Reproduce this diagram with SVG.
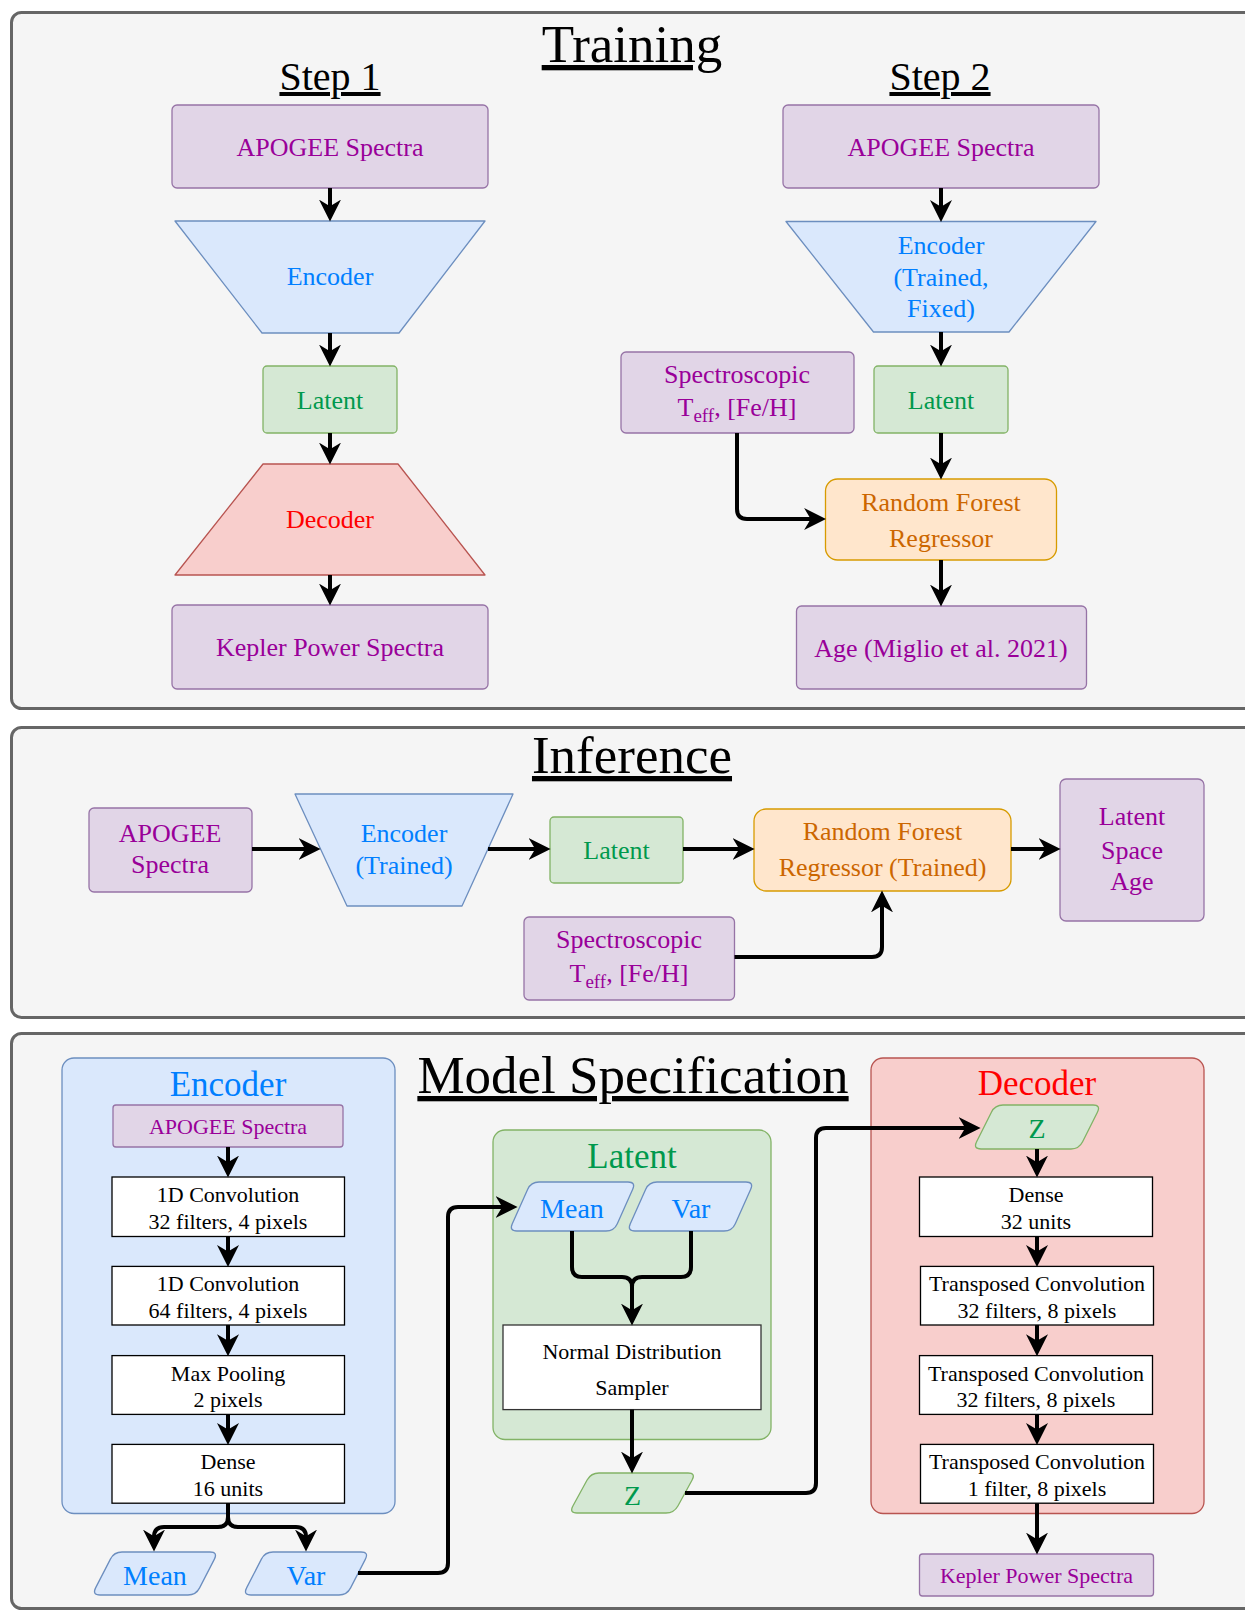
<svg xmlns="http://www.w3.org/2000/svg" width="1245" height="1610" viewBox="0 0 1245 1610">
<style>
text{font-family:"Liberation Serif","Times New Roman",serif;text-anchor:middle}
.panel{fill:#f5f5f5;stroke:#666666;stroke-width:3}
.pur{fill:#e1d5e7;stroke:#9673a6;stroke-width:1.3}
.blu{fill:#dae8fc;stroke:#6c8ebf;stroke-width:1.3;stroke-linejoin:round}
.grn{fill:#d5e8d4;stroke:#82b366;stroke-width:1.3;stroke-linejoin:round}
.org{fill:#ffe6cc;stroke:#d79b00;stroke-width:1.3}
.red{fill:#f8cecc;stroke:#b85450;stroke-width:1.3;stroke-linejoin:round}
.wht{fill:#ffffff;stroke:#000000;stroke-width:1.3}
.title{font-size:53px;fill:#000;text-decoration:underline}
.step{font-size:40px;fill:#000;text-decoration:underline}
.t26{font-size:26px}
.t22{font-size:22px}
.t28{font-size:28px}
.t35{font-size:35px}
.cp{fill:#990099}
.cb{fill:#007fff}
.cg{fill:#00994d}
.co{fill:#cc6600}
.cr{fill:#ff0000}
.ck{fill:#000000}
.edge{fill:none;stroke:#000;stroke-width:4;stroke-linejoin:round;marker-end:url(#arr)}
.line{fill:none;stroke:#000;stroke-width:4;stroke-linejoin:round}
</style>
<defs>
<marker id="arr" markerUnits="userSpaceOnUse" markerWidth="22" markerHeight="22" viewBox="0 0 20 20" refX="14" refY="10" orient="auto">
<path d="M0,0 L20,10 L0,20 L6,10 Z" fill="#000"/>
</marker>
</defs>

<!-- Panels -->
<g id="panel-training">
<rect class="panel" x="11.5" y="12.5" width="1260" height="696" rx="10"/>
<text class="title" x="632" y="62">Training</text>
<text class="step" x="330" y="90">Step 1</text>
<text class="step" x="940" y="90">Step 2</text>
</g>
<g id="panel-inference">
<rect class="panel" x="11.5" y="727.5" width="1260" height="290" rx="10"/>
<text class="title" x="632" y="773">Inference</text>
</g>
<g id="panel-model">
<rect class="panel" x="11.5" y="1033.5" width="1260" height="575" rx="10"/>
<text class="title" x="633" y="1093">Model Specification</text>
</g>

<!-- Training Step 1 -->
<g id="s1-apogee">
<rect class="pur" x="172" y="105" width="316" height="83" rx="5"/>
<text class="t26 cp" x="330" y="155.5">APOGEE Spectra</text>
</g>
<g id="s1-encoder">
<path class="blu" d="M175,221 L485,221 L399,333 L262,333 Z"/>
<text class="t26 cb" x="330" y="285">Encoder</text>
</g>
<g id="s1-latent">
<rect class="grn" x="263" y="366" width="134" height="67" rx="4"/>
<text class="t26 cg" x="330" y="408.5">Latent</text>
</g>
<g id="s1-decoder">
<path class="red" d="M263,464 L398,464 L485,575 L175,575 Z"/>
<text class="t26 cr" x="330" y="528">Decoder</text>
</g>
<g id="s1-kepler">
<rect class="pur" x="172" y="605" width="316" height="84" rx="5"/>
<text class="t26 cp" x="330" y="656">Kepler Power Spectra</text>
</g>

<!-- Training Step 2 -->
<g id="s2-apogee">
<rect class="pur" x="783" y="105" width="316" height="83" rx="5"/>
<text class="t26 cp" x="941" y="155.5">APOGEE Spectra</text>
</g>
<g id="s2-encoder">
<path class="blu" d="M786,221.5 L1096,221.5 L1009,332 L873.5,332 Z"/>
<text class="t26 cb" x="941" y="254">Encoder</text>
<text class="t26 cb" x="941" y="285.5">(Trained,</text>
<text class="t26 cb" x="941" y="317">Fixed)</text>
</g>
<g id="s2-spec">
<rect class="pur" x="621" y="352" width="233" height="81" rx="5"/>
<text class="t26 cp" x="737" y="382.5">Spectroscopic</text>
<text class="t26 cp" x="737" y="416">T<tspan font-size="19" dy="6">eff</tspan><tspan dy="-6">, [Fe/H]</tspan></text>
</g>
<g id="s2-latent">
<rect class="grn" x="874" y="366" width="134" height="67" rx="4"/>
<text class="t26 cg" x="941" y="408.5">Latent</text>
</g>
<g id="s2-rf">
<rect class="org" x="825.5" y="479" width="231" height="81" rx="12"/>
<text class="t26 co" x="941" y="511">Random Forest</text>
<text class="t26 co" x="941" y="546.5">Regressor</text>
</g>
<g id="s2-age">
<rect class="pur" x="796.5" y="606" width="290" height="83" rx="5"/>
<text class="t26 cp" x="941" y="657">Age (Miglio et al. 2021)</text>
</g>

<!-- Inference -->
<g id="inf-apogee">
<rect class="pur" x="89" y="808" width="163" height="84" rx="5"/>
<text class="t26 cp" x="170" y="842">APOGEE</text>
<text class="t26 cp" x="170" y="873">Spectra</text>
</g>
<g id="inf-encoder">
<path class="blu" d="M295,794 L513,794 L462,906 L347,906 Z"/>
<text class="t26 cb" x="404" y="842">Encoder</text>
<text class="t26 cb" x="404" y="874">(Trained)</text>
</g>
<g id="inf-latent">
<rect class="grn" x="550" y="817" width="133" height="66" rx="4"/>
<text class="t26 cg" x="616.5" y="859">Latent</text>
</g>
<g id="inf-rf">
<rect class="org" x="754" y="809" width="257" height="82" rx="12"/>
<text class="t26 co" x="882.5" y="840">Random Forest</text>
<text class="t26 co" x="882.5" y="876">Regressor (Trained)</text>
</g>
<g id="inf-age">
<rect class="pur" x="1060" y="779" width="144" height="142" rx="6"/>
<text class="t26 cp" x="1132" y="825">Latent</text>
<text class="t26 cp" x="1132" y="859">Space</text>
<text class="t26 cp" x="1132" y="890">Age</text>
</g>
<g id="inf-spec">
<rect class="pur" x="524" y="917" width="210.5" height="83" rx="5"/>
<text class="t26 cp" x="629" y="948">Spectroscopic</text>
<text class="t26 cp" x="629" y="981.5">T<tspan font-size="19" dy="6">eff</tspan><tspan dy="-6">, [Fe/H]</tspan></text>
</g>

<!-- Model spec: Encoder -->
<g id="ms-encoder">
<rect class="blu" x="62" y="1058" width="333" height="455.5" rx="12"/>
<text class="t35 cb" x="228" y="1096">Encoder</text>
</g>
<g id="ms-enc-apogee">
<rect class="pur" x="113" y="1105" width="230" height="42" rx="3"/>
<text class="t22 cp" x="228" y="1134">APOGEE Spectra</text>
</g>
<g id="ms-enc-conv1">
<rect class="wht" x="112" y="1177" width="232.5" height="59.5"/>
<text class="t22 ck" x="228" y="1202">1D Convolution</text>
<text class="t22 ck" x="228" y="1228.7">32 filters, 4 pixels</text>
</g>
<g id="ms-enc-conv2">
<rect class="wht" x="112" y="1266.4" width="232.5" height="58.6"/>
<text class="t22 ck" x="228" y="1291.4">1D Convolution</text>
<text class="t22 ck" x="228" y="1318">64 filters, 4 pixels</text>
</g>
<g id="ms-enc-pool">
<rect class="wht" x="112" y="1355.6" width="232.5" height="58.8"/>
<text class="t22 ck" x="228" y="1380.6">Max Pooling</text>
<text class="t22 ck" x="228" y="1407">2 pixels</text>
</g>
<g id="ms-enc-dense">
<rect class="wht" x="112" y="1444.4" width="232.5" height="58.8"/>
<text class="t22 ck" x="228" y="1469.4">Dense</text>
<text class="t22 ck" x="228" y="1496">16 units</text>
</g>
<g id="ms-enc-mean">
<path class="blu" d="M122,1552 L210,1552 Q218,1552 214.4,1559.1 L199.6,1587.9 Q196,1595 188,1595 L100,1595 Q92,1595 95.6,1587.9 L110.4,1559.1 Q114,1552 122,1552 Z"/>
<text class="t28 cb" x="155" y="1585">Mean</text>
</g>
<g id="ms-enc-var">
<path class="blu" d="M273,1552 L361,1552 Q369,1552 365.4,1559.1 L350.6,1587.9 Q347,1595 339,1595 L251,1595 Q243,1595 246.6,1587.9 L261.4,1559.1 Q265,1552 273,1552 Z"/>
<text class="t28 cb" x="306" y="1585">Var</text>
</g>

<!-- Model spec: Latent -->
<g id="ms-latent">
<rect class="grn" x="493" y="1130" width="278" height="309.5" rx="12"/>
<text class="t35 cg" x="632" y="1168">Latent</text>
</g>
<g id="ms-lat-mean">
<path class="blu" d="M539,1182 L628,1182 Q636,1182 632.7,1189.3 L617.3,1223.7 Q614,1231 606,1231 L517,1231 Q509,1231 512.3,1223.7 L527.7,1189.3 Q531,1182 539,1182 Z"/>
<text class="t28 cb" x="572" y="1218">Mean</text>
</g>
<g id="ms-lat-var">
<path class="blu" d="M657,1182 L746,1182 Q754,1182 750.7,1189.3 L735.3,1223.7 Q732,1231 724,1231 L635,1231 Q627,1231 630.3,1223.7 L645.7,1189.3 Q649,1182 657,1182 Z"/>
<text class="t28 cb" x="691" y="1218">Var</text>
</g>
<g id="ms-sampler">
<rect class="wht" x="503" y="1325" width="258" height="84.6" style="stroke:#333"/>
<text class="t22 ck" x="632" y="1359">Normal Distribution</text>
<text class="t22 ck" x="632" y="1394.5">Sampler</text>
</g>
<g id="ms-z">
<path class="grn" d="M599,1473 L688,1473 Q696,1473 692.1,1480 L677.9,1506 Q674,1513 666,1513 L577,1513 Q569,1513 572.9,1506 L587.1,1480 Q591,1473 599,1473 Z"/>
<text class="t28 cg" x="632.5" y="1505">Z</text>
</g>

<!-- Model spec: Decoder -->
<g id="ms-decoder">
<rect class="red" x="871" y="1058" width="333" height="455.5" rx="12"/>
<text class="t35 cr" x="1037" y="1095">Decoder</text>
</g>
<g id="ms-dec-z">
<path class="grn" d="M1003,1105 L1093,1105 Q1101,1105 1097.4,1112.2 L1082.6,1141.8 Q1079,1149 1071,1149 L981,1149 Q973,1149 976.6,1141.8 L991.4,1112.2 Q995,1105 1003,1105 Z"/>
<text class="t28 cg" x="1037" y="1138">Z</text>
</g>
<g id="ms-dec-dense">
<rect class="wht" x="919.5" y="1177" width="233" height="59.5"/>
<text class="t22 ck" x="1036" y="1202">Dense</text>
<text class="t22 ck" x="1036" y="1228.7">32 units</text>
</g>
<g id="ms-dec-tc1">
<rect class="wht" x="920.5" y="1266.4" width="233" height="58.6"/>
<text class="t22 ck" x="1037" y="1291.4">Transposed Convolution</text>
<text class="t22 ck" x="1037" y="1318">32 filters, 8 pixels</text>
</g>
<g id="ms-dec-tc2">
<rect class="wht" x="919.5" y="1355.6" width="233" height="58.8"/>
<text class="t22 ck" x="1036" y="1380.6">Transposed Convolution</text>
<text class="t22 ck" x="1036" y="1407">32 filters, 8 pixels</text>
</g>
<g id="ms-dec-tc3">
<rect class="wht" x="920.5" y="1444.4" width="233" height="58.8"/>
<text class="t22 ck" x="1037" y="1469.4">Transposed Convolution</text>
<text class="t22 ck" x="1037" y="1496">1 filter, 8 pixels</text>
</g>
<g id="ms-dec-kepler">
<rect class="pur" x="919.5" y="1554" width="234" height="42" rx="3"/>
<text class="t22 cp" x="1036.5" y="1583">Kepler Power Spectra</text>
</g>

<!-- Connectors -->
<g id="connectors">
<path class="edge" d="M330,188 L330,215"/>
<path class="edge" d="M330,333 L330,360"/>
<path class="edge" d="M330,433 L330,458"/>
<path class="edge" d="M330,575 L330,599"/>

<path class="edge" d="M941,188 L941,215.5"/>
<path class="edge" d="M941,332 L941,360"/>
<path class="edge" d="M941,433 L941,473"/>
<path class="edge" d="M941,560 L941,600"/>
<path class="edge" d="M737,433 L737,509 Q737,519 747,519 L819.5,519"/>

<path class="edge" d="M252,849 L314,849"/>
<path class="edge" d="M488,849 L544,849"/>
<path class="edge" d="M683,849 L748,849"/>
<path class="edge" d="M1011,849 L1054,849"/>
<path class="edge" d="M734.5,957 L872,957 Q882,957 882,947 L882,897"/>

<path class="edge" d="M228,1147 L228,1171"/>
<path class="edge" d="M228,1236.5 L228,1260.4"/>
<path class="edge" d="M228,1325 L228,1349.6"/>
<path class="edge" d="M228,1414.4 L228,1438.4"/>
<path class="edge" d="M228,1503.2 L228,1517 Q228,1527 218,1527 L164,1527 Q154,1527 154,1537 L154,1545"/>
<path class="edge" d="M228,1503.2 L228,1517 Q228,1527 238,1527 L296,1527 Q306,1527 306,1537 L306,1545"/>
<path class="edge" d="M358,1573 L438,1573 Q448,1573 448,1563 L448,1217 Q448,1207 458,1207 L511,1207"/>

<path class="line" d="M572,1231 L572,1267 Q572,1277 582,1277 L622,1277 Q632,1277 632,1287"/>
<path class="edge" d="M691,1231 L691,1267 Q691,1277 681,1277 L642,1277 Q632,1277 632,1287 L632,1319"/>
<path class="edge" d="M632,1409.6 L632,1467"/>
<path class="edge" d="M685,1493 L806,1493 Q816,1493 816,1483 L816,1138 Q816,1128 826,1128 L974,1128"/>

<path class="edge" d="M1037,1149 L1037,1171"/>
<path class="edge" d="M1037,1236.5 L1037,1260.4"/>
<path class="edge" d="M1037,1325 L1037,1349.6"/>
<path class="edge" d="M1037,1414.4 L1037,1438.4"/>
<path class="edge" d="M1037,1503.2 L1037,1548"/>
</g>
</svg>
